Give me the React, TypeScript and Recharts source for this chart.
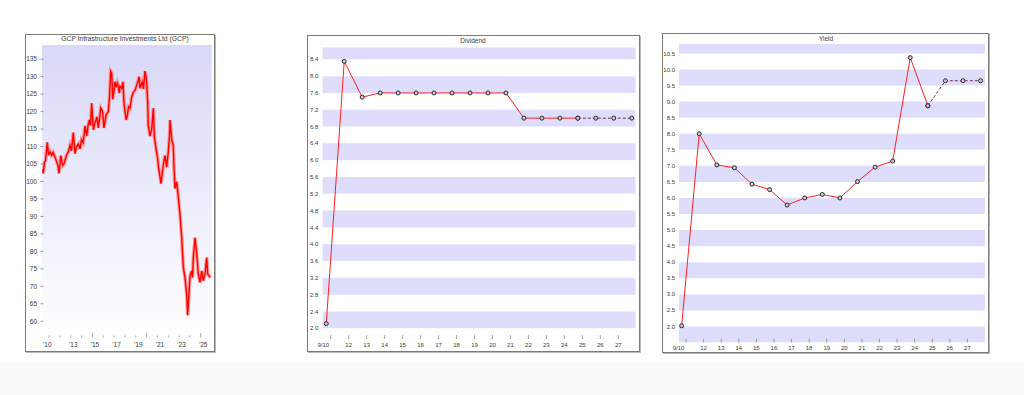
import React from 'react';
import { LineChart, Line, XAxis, YAxis, ReferenceArea, CartesianGrid } from 'recharts';

const FONT = '"Liberation Sans", Arial, Helvetica, sans-serif';
const TEXT_COLOR = '#3a3a3a';
const TICK_COLOR = '#9a9a9a';
const BAND = '#dedefc';

// ---------- Share price (pence) ----------
const priceDates = [
  2010.17, 2010.23, 2010.34, 2010.43, 2010.60, 2010.71, 2010.85, 2010.99, 2011.13, 2011.31,
  2011.47, 2011.59, 2011.68, 2011.84, 2012.02, 2012.14, 2012.23, 2012.37, 2012.54, 2012.70,
  2012.83, 2013.00, 2013.16, 2013.30, 2013.46, 2013.62, 2013.76, 2013.92, 2014.08, 2014.24,
  2014.36, 2014.48, 2014.59, 2014.70, 2014.85, 2014.98, 2015.10, 2015.19, 2015.31, 2015.42,
  2015.53, 2015.71, 2015.83, 2015.93, 2016.02, 2016.23, 2016.34, 2016.45, 2016.55, 2016.64,
  2016.76, 2016.85, 2016.94, 2017.06, 2017.16, 2017.25, 2017.31, 2017.47, 2017.59, 2017.68,
  2017.77, 2017.89, 2018.00, 2018.10, 2018.24, 2018.39, 2018.54, 2018.70, 2018.85, 2019.00,
  2019.07, 2019.16, 2019.25, 2019.37, 2019.48, 2019.62, 2019.71, 2019.78, 2019.87, 2019.93,
  2020.08, 2020.24, 2020.39, 2020.48, 2020.64, 2020.79, 2020.87, 2020.94, 2021.10, 2021.25,
  2021.37, 2021.47, 2021.62, 2021.77, 2021.88, 2021.93, 2022.09, 2022.23, 2022.30, 2022.39,
  2022.55, 2022.70, 2022.85, 2023.01, 2023.08, 2023.16, 2023.31, 2023.47, 2023.56, 2023.68,
  2023.78, 2023.93, 2024.01, 2024.08, 2024.24, 2024.39, 2024.54, 2024.70, 2024.86, 2025.00,
  2025.16, 2025.32, 2025.41, 2025.56, 2025.67,
];
const priceValues = [
  103.5, 102.3, 105.5, 106, 111.2, 107.5, 108.5, 107.5, 108.3, 107,
  105.6, 104.5, 102.3, 107.4, 104.6, 105, 106, 107.5, 108.5, 110.3,
  108.8, 114, 108, 110, 110.7, 109.3, 112, 111.2, 115.9, 113,
  116, 117.6, 116, 122.4, 114.8, 116.5, 117.6, 118.5, 115.3, 118,
  121, 120, 115.3, 117, 119, 120, 124, 131.5, 131, 123.5,
  126, 128.6, 127, 128.2, 127, 125.3, 127.2, 126.7, 128.5, 122.5,
  120, 117.6, 119, 121.4, 121, 124.2, 125.5, 126.1, 127.5, 129,
  130, 126.7, 127.5, 128.5, 126.5, 131.6, 130, 128.1, 122.5, 115.9,
  113, 114.9, 121, 113, 109.3, 106.5, 104, 102.7, 99.4, 103.2,
  106, 107.4, 104.1, 108.4, 113, 117.6, 112, 110.2, 104, 98,
  99.9, 95.3, 90.5, 83.9, 80, 75.4, 72.5, 67.8, 61.7, 67.8,
  73, 74.4, 72.5, 78.2, 83.9, 79.6, 73.5, 71.1, 74.4, 71.6,
  73.5, 78.2, 73.5, 72.8, 72.6,
];
const priceYTicks = [60, 65, 70, 75, 80, 85, 90, 95, 100, 105, 110, 115, 120, 125, 130, 135];
const priceLabelPos = [2010.6, 2013, 2015, 2017, 2019, 2021, 2023, 2025];
const priceLabels = ["'10", "'13", "'15", "'17", "'19", "'21", "'23", "'25"];
const priceMinorTicks = [
  2010.77, 2011.77, 2012.77, 2013.77, 2014.77, 2015.77, 2016.77, 2017.77,
  2018.77, 2019.77, 2020.77, 2021.77, 2022.77, 2023.77, 2024.77,
];
const priceLongTicks = [2014.77, 2019.77, 2024.77];

// ---------- Dividend & yield, by financial year ----------
const fiscalYears = [
  2010, 2011, 2012, 2013, 2014, 2015, 2016, 2017, 2018,
  2019, 2020, 2021, 2022, 2023, 2024, 2025, 2026, 2027,
];
const dividendActual = [2.11, 8.35, 7.5, 7.6, 7.6, 7.6, 7.6, 7.6, 7.6, 7.6, 7.6, 7.0, 7.0, 7.0, 7.0];
const dividendForecast = [7.0, 7.0, 7.0];
const yieldActual = [2.02, 8.0, 7.03, 6.94, 6.43, 6.26, 5.78, 6.0, 6.11, 6.0, 6.51, 6.96, 7.15, 10.37, 8.87];
const yieldForecast = [9.65, 9.65, 9.65];

const yearTicks = [2011, 2012, 2013, 2014, 2015, 2016, 2017, 2018, 2019, 2020, 2021, 2022, 2023, 2024, 2025, 2026, 2027];
const yearTickLabels = ['9/10', '12', '13', '14', '15', '16', '17', '18', '19', '20', '21', '22', '23', '24', '25', '26', '27'];

const dividendYTicks = [2.0, 2.4, 2.8, 3.2, 3.6, 4.0, 4.4, 4.8, 5.2, 5.6, 6.0, 6.4, 6.8, 7.2, 7.6, 8.0, 8.4];
const dividendDomain = [1.745, 8.686];
const yieldYTicks = [2.0, 2.5, 3.0, 3.5, 4.0, 4.5, 5.0, 5.5, 6.0, 6.5, 7.0, 7.5, 8.0, 8.5, 9.0, 9.5, 10.0, 10.5];
const yieldDomain = [1.5, 10.8];

// ---------- tables ----------
const priceData = priceDates.map((t, i) => ({ t, v: priceValues[i] }));

const buildSeries = (actual: number[], forecast: number[]) =>
  fiscalYears.map((yr, i) => {
    const n = actual.length;
    const a = i < n ? actual[i] : null;
    const f = i >= n ? forecast[i - n] : i === n - 1 ? actual[i] : null;
    return { t: yr + 0.75, a, f };
  });
const dividendData = buildSeries(dividendActual, dividendForecast);
const yieldData = buildSeries(yieldActual, yieldForecast);

// shaded bands: every other tick interval
const bandsFrom = (ticks: number[], domain: number[], startShaded: boolean) => {
  const edges = [domain[0], ...ticks.filter((t) => t > domain[0]), domain[1]];
  const out: number[][] = [];
  for (let i = 0; i < edges.length - 1; i++) {
    const shaded = startShaded ? i % 2 === 0 : i % 2 === 1;
    if (shaded) out.push([edges[i], edges[i + 1]]);
  }
  return out;
};
const dividendBands = bandsFrom(dividendYTicks, dividendDomain, false);
const yieldBands = bandsFrom(yieldYTicks, yieldDomain, true);

// ---------- tick renderers ----------
const makeYTick = (fmt: (v: number) => string, fs: number, gap: number, dash: boolean) => (props: any) => {
  const { x, y, payload } = props;
  return (
    <g>
      {dash && <line x1={x - 1.5} x2={x + 1.5} y1={y} y2={y} stroke="#808080" strokeWidth={0.8} />}
      <text x={x - gap} y={y} dy="0.35em" textAnchor="end" fontSize={fs} fill={TEXT_COLOR} fontFamily={FONT}>
        {fmt(payload.value)}
      </text>
    </g>
  );
};

const PriceXTick = (props: any) => {
  const { x, y, payload } = props;
  const v = payload.value;
  const li = priceLabelPos.indexOf(v);
  if (li >= 0) {
    return (
      <text x={x} y={y + 8.5} textAnchor="middle" fontSize={6.5} fill={TEXT_COLOR} fontFamily={FONT}>
        {priceLabels[li]}
      </text>
    );
  }
  const long = priceLongTicks.indexOf(v) >= 0;
  return <line x1={x} x2={x} y1={y - (long ? 5 : 2.5)} y2={y - 0.5} stroke={TICK_COLOR} strokeWidth={0.9} />;
};

const makeYearTick = (labelOffset: number) => (props: any) => {
  const { x, y, payload } = props;
  const i = yearTicks.indexOf(payload.value);
  return (
    <g>
      <line x1={x} x2={x} y1={y - 4} y2={y} stroke={TICK_COLOR} strokeWidth={0.9} />
      <text x={i === 0 ? x - 7.4 : x} y={y + labelOffset} textAnchor="middle" fontSize={6} fill={TEXT_COLOR} fontFamily={FONT}>
        {yearTickLabels[i]}
      </text>
    </g>
  );
};

const renderDot = (props: any) => {
  const { cx, cy, value, index } = props;
  if (value == null || cx == null || cy == null) return <g key={`d${index}`} />;
  return <circle key={`d${index}`} cx={cx} cy={cy} r={2} fill="#cacadf" stroke="#1a1a1a" strokeWidth={0.9} />;
};

const frame = (left: number, top: number, width: number, height: number): React.CSSProperties => ({
  position: 'absolute',
  left,
  top,
  width,
  height,
  boxSizing: 'border-box',
  border: '1px solid #7a7a7a',
  boxShadow: '1px 1px 0 #b8b8b8',
  background: '#fff',
});

const title = (cx: number, cy: number, fs: number): React.CSSProperties => ({
  position: 'absolute',
  left: cx - 100,
  width: 200,
  top: cy - fs / 2 - 0.5,
  lineHeight: `${fs + 1}px`,
  fontSize: fs,
  fontFamily: FONT,
  color: TEXT_COLOR,
  textAlign: 'center',
  whiteSpace: 'nowrap',
});

export default function App() {
  return (
    <div style={{ position: 'absolute', left: 0, top: 0, width: 1024, height: 395, background: '#fff', overflow: 'hidden' }}>
      <div style={{ position: 'absolute', left: 0, top: 362, width: 1024, height: 33, background: '#fbfbfb' }} />

      {/* Panel 1: share price */}
      <div style={frame(25, 34, 190, 318)} />
      <div style={{ position: 'absolute', left: 25, top: 34 }}>
        <LineChart width={190} height={318} data={priceData} margin={{ top: 11, right: 3.3, bottom: 0, left: 0 }}>
          <defs>
            <linearGradient id="priceBg" x1="0" y1="0" x2="0" y2="1">
              <stop offset="0" stopColor="#d8d8f8" />
              <stop offset="1" stopColor="#ffffff" />
            </linearGradient>
          </defs>
          <CartesianGrid horizontal={false} vertical={false} fill="url(#priceBg)" fillOpacity={1} stroke="none" />
          <XAxis
            type="number"
            dataKey="t"
            domain={[2010.11, 2025.78]}
            allowDataOverflow
            ticks={[...priceMinorTicks, ...priceLabelPos].sort((a, b) => a - b)}
            interval={0}
            height={14}
            axisLine={false}
            tickLine={false}
            tickSize={0}
            tickMargin={0}
            tick={PriceXTick}
          />
          <YAxis
            type="number"
            domain={[55.2, 139.05]}
            allowDataOverflow
            ticks={priceYTicks}
            interval={0}
            width={17}
            axisLine={false}
            tickLine={false}
            tickSize={0}
            tickMargin={0}
            tick={makeYTick((v) => String(v), 6.5, 5, true)}
          />
          <Line dataKey="v" stroke="#ff8c8c" strokeWidth={3.6} strokeOpacity={0.85} dot={false} isAnimationActive={false} />
          <Line dataKey="v" stroke="#ff0000" strokeWidth={1.4} dot={false} isAnimationActive={false} />
        </LineChart>
      </div>
      <div style={title(125, 39, 6.8)}>GCP Infrastructure Investments Ltd (GCP)</div>

      {/* Panel 2: dividend */}
      <div style={frame(307, 35, 333, 317)} />
      <div style={{ position: 'absolute', left: 307, top: 35 }}>
        <LineChart width={333} height={317} data={dividendData} margin={{ top: 12.3, right: 4.3, bottom: 0, left: 0 }}>
          {dividendBands.map((b, i) => (
            <ReferenceArea key={`db${i}`} y1={b[0]} y2={b[1]} fill={BAND} fillOpacity={1} stroke="none" ifOverflow="hidden" />
          ))}
          <XAxis
            type="number"
            dataKey="t"
            domain={[2010.53, 2027.97]}
            allowDataOverflow
            ticks={yearTicks}
            interval={0}
            height={13}
            axisLine={false}
            tickLine={false}
            tickSize={0}
            tickMargin={0}
            tick={makeYearTick(8.1)}
          />
          <YAxis
            type="number"
            domain={dividendDomain}
            allowDataOverflow
            ticks={dividendYTicks}
            interval={0}
            width={15.3}
            axisLine={false}
            tickLine={false}
            tickSize={0}
            tickMargin={0}
            tick={makeYTick((v) => v.toFixed(1), 6, 4, false)}
          />
          <Line dataKey="a" stroke="#ff2020" strokeWidth={1} dot={renderDot} isAnimationActive={false} />
          <Line dataKey="f" stroke="#7a2a50" strokeWidth={1} strokeDasharray="3 2" dot={renderDot} isAnimationActive={false} />
        </LineChart>
      </div>
      <div style={title(473, 41, 6.5)}>Dividend</div>

      {/* Panel 3: yield */}
      <div style={frame(662, 32.5, 327, 320)} />
      <div style={{ position: 'absolute', left: 662, top: 32.5 }}>
        <LineChart width={327} height={320} data={yieldData} margin={{ top: 10.8, right: 4, bottom: 0, left: 0 }}>
          {yieldBands.map((b, i) => (
            <ReferenceArea key={`yb${i}`} y1={b[0]} y2={b[1]} fill={BAND} fillOpacity={1} stroke="none" ifOverflow="hidden" />
          ))}
          <XAxis
            type="number"
            dataKey="t"
            domain={[2010.6, 2028.0]}
            allowDataOverflow
            ticks={yearTicks}
            interval={0}
            height={10.5}
            axisLine={false}
            tickLine={false}
            tickSize={0}
            tickMargin={0}
            tick={makeYearTick(7.4)}
          />
          <YAxis
            type="number"
            domain={yieldDomain}
            allowDataOverflow
            ticks={yieldYTicks}
            interval={0}
            width={17}
            axisLine={false}
            tickLine={false}
            tickSize={0}
            tickMargin={0}
            tick={makeYTick((v) => v.toFixed(1), 6, 4, false)}
          />
          <Line dataKey="a" stroke="#ff2020" strokeWidth={1} dot={renderDot} isAnimationActive={false} />
          <Line dataKey="f" stroke="#7a2a50" strokeWidth={1} strokeDasharray="3 2" dot={renderDot} isAnimationActive={false} />
        </LineChart>
      </div>
      <div style={title(826, 38.3, 6.5)}>Yield</div>
    </div>
  );
}
